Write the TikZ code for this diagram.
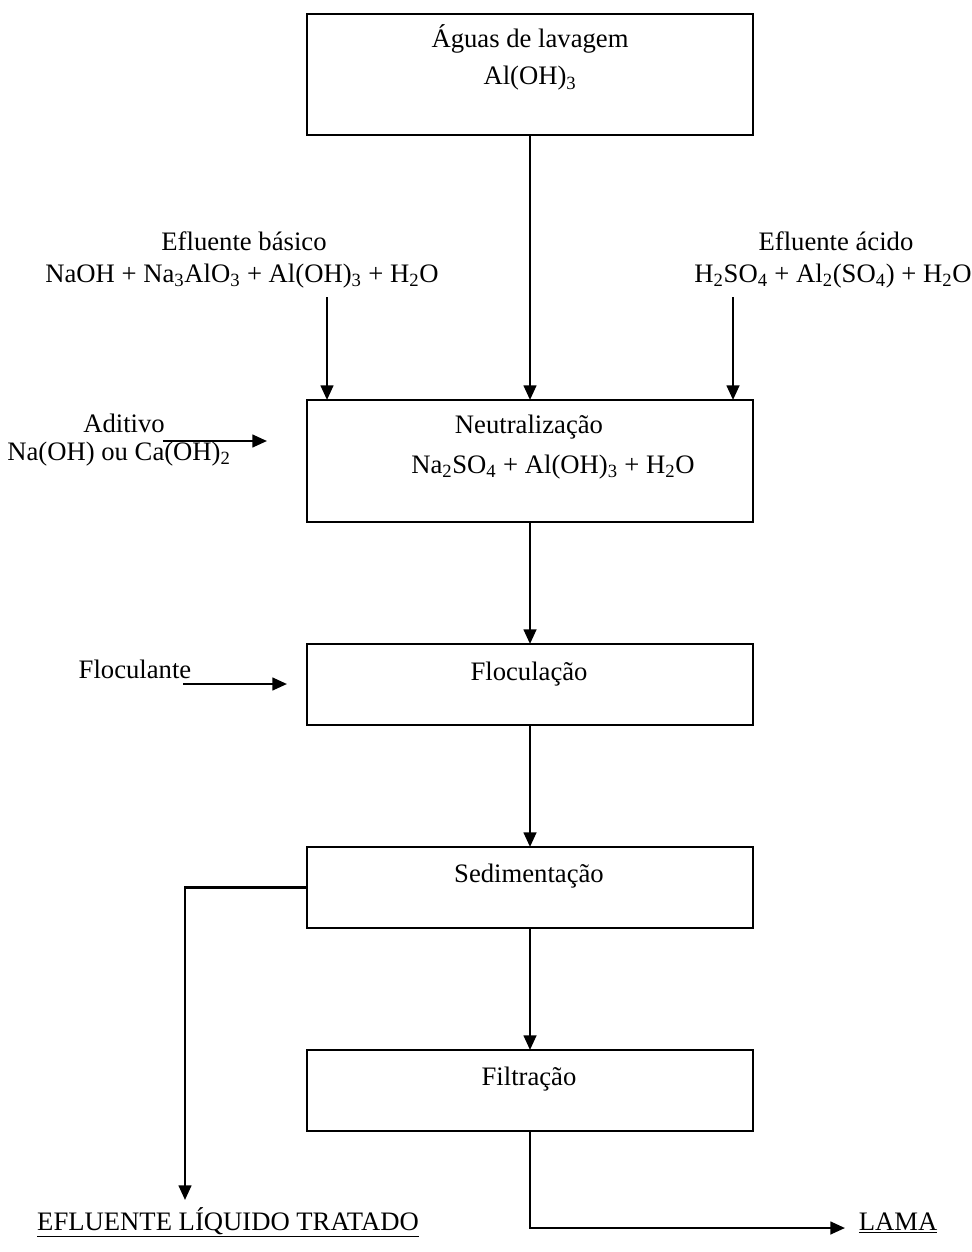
\documentclass[tikz,border=0pt]{standalone}
\usepackage{fontspec}
\setmainfont{Liberation Serif}
\usetikzlibrary{arrows.meta,fit}

\begin{document}
\begin{tikzpicture}[x=0.75pt,y=-0.75pt,
  box/.style={draw,line width=1.6pt,inner sep=0pt,outer sep=0pt},
  txt/.style={inner sep=0pt,anchor=base,font=\fontsize{20pt}{24pt}\selectfont},
  flow/.style={line width=1.8pt,-{Triangle[length=11pt,width=9.5pt]}},
  link/.style={line width=1.8pt}]
\useasboundingbox (0,0) rectangle (971,1252);

% process boxes
\node[box,fit={(307,14)(753,135)}] (agua) {};
\node[box,fit={(307,400)(753,522)}] (neut) {};
\node[box,fit={(307,644)(753,725)}] (floc) {};
\node[box,fit={(307,847)(753,928)}] (sed) {};
\node[box,fit={(307,1050)(753,1131)}] (filt) {};

% box texts
\node[txt] (aguaA) at (530,48) {Águas de lavagem};
\node[txt] (aguaB) at (530,85) {Al(OH)\textsubscript{3}};
\node[txt] (neutA) at (529,433) {Neutralização};
\node[txt] (neutB) at (553,473) {Na\textsubscript{2}SO\textsubscript{4} + Al(OH)\textsubscript{3} + H\textsubscript{2}O};
\node[txt] (flocA) at (529,680) {Floculação};
\node[txt] (sedA) at (529,882) {Sedimentação};
\node[txt] (filtA) at (529,1085) {Filtração};

% inputs
\node[txt] (basA) at (244,250) {Efluente básico};
\node[txt] (basB) at (242,282) {NaOH + Na\textsubscript{3}AlO\textsubscript{3} + Al(OH)\textsubscript{3} + H\textsubscript{2}O};
\node[txt] (acA) at (836,250) {Efluente ácido};
\node[txt] (acB) at (833,282) {H\textsubscript{2}SO\textsubscript{4} + Al\textsubscript{2}(SO\textsubscript{4}) + H\textsubscript{2}O};
\node[txt] (adA) at (124,432) {Aditivo};
\node[txt] (adB) at (119,460) {Na(OH) ou Ca(OH)\textsubscript{2}};
\node[txt] (flA) at (135,678) {Floculante};

% outputs
\node[txt] (efl) at (228,1230) {\underline{EFLUENTE LÍQUIDO TRATADO}};
\node[txt] (lama) at (898,1230) {\underline{LAMA}};

% free ends of the connectors
\coordinate (basIn) at (327,297);
\coordinate (acIn) at (733,297);
\coordinate (adIn) at (163,441);
\coordinate (adTip) at (267,441);
\coordinate (flIn) at (183,684);
\coordinate (flTip) at (287,684);
\coordinate (eflTip) at (185,1200);
\coordinate (lamaTip) at (845,1228);

% main line
\draw[flow] (agua.south) -- (neut.north);
\draw[flow] (neut.south) -- (floc.north);
\draw[flow] (floc.south) -- (sed.north);
\draw[flow] (sed.south) -- (filt.north);

% side streams
\draw[flow] (basIn) -- (basIn |- neut.north);
\draw[flow] (acIn) -- (acIn |- neut.north);
\draw[flow] (adIn) -- (adTip);
\draw[flow] (flIn) -- (flTip);

% products
\draw[flow] (sed.west) -| (eflTip);
\draw[flow] (filt.south) |- (lamaTip);
\end{tikzpicture}
\end{document}
